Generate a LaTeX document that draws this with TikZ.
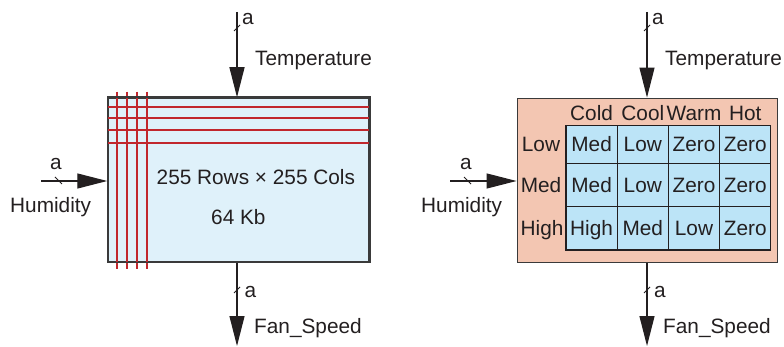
\documentclass[tikz,border=0pt]{standalone}
\usepackage{fontspec}
\setmainfont{Liberation Sans}
\usetikzlibrary{arrows.meta}
\definecolor{ink}{HTML}{231F20}
\definecolor{boxline}{HTML}{3A3A3A}
\definecolor{lblue}{HTML}{DFF1FA}
\definecolor{salmon}{HTML}{F3C6B2}
\definecolor{cblue}{HTML}{BCE4F7}
\definecolor{redline}{HTML}{C1272D}
\tikzset{
  lbl/.style={anchor=base west},
  sig/.style={draw=ink, line width=1.2pt, -{Triangle[length=30pt,width=15pt]}},
  tick/.style={draw=ink, line width=0.8pt},
  bigbox/.style={draw=boxline, line width=1.5pt, inner sep=0pt},
  cell/.style={draw=ink, line width=1.1pt, fill=cblue, minimum width=51.2pt, text height=14.9pt, text depth=0pt},
  hdr/.style={anchor=base},
  grid/.style={draw=redline, line width=2pt}
}
\begin{document}
\begin{tikzpicture}[x=1pt,y=-1pt, every node/.style={font=\fontsize{20.8}{25}\selectfont, text=ink, inner sep=0pt}]
\useasboundingbox (0,0) rectangle (784,347);
% ---------------- left diagram ----------------
\node[bigbox, fill=lblue, minimum width=261pt, minimum height=164pt] (lbox) at (238.5,180) {};
\foreach \yy in {107,118,130,143} \draw[grid] (108,\yy) -- (369,\yy);
\foreach \xx in {117,127,137,147} \draw[grid] (\xx,91.7) -- (\xx,269.3);
\draw[draw=boxline, line width=1.5pt] (lbox.south west) rectangle (lbox.north east);
\coordinate (ltin) at (237,12);
\coordinate (lhin) at (41,181);
\coordinate (lfout) at (237,346);
\draw[sig] (ltin) -- (ltin |- lbox.north);
\draw[sig] (lhin) -- (lhin -| lbox.west);
\draw[sig] (ltin |- lbox.south) -- (lfout);
\draw[tick] (237,28) +(-3,3) -- +(3,-3);
\draw[tick] (58.5,180.5) +(-3.5,-3.5) -- +(3.5,3.5);
\draw[tick] (237,290) +(-3,3) -- +(3,-3);
\node[lbl] (lta) at (242,24.5) {a};
\node[lbl] (ltl) at (255,66) {Temperature};
\node[lbl] (lha) at (50,170) {a};
\node[lbl] (lhl) at (10,213) {Humidity};
\node[lbl] (lfa) at (244.5,298) {a};
\node[lbl] (lfl) at (254,333) {Fan\_Speed};
\node[lbl] (lsz) at (156.5,185) {255 Rows × 255 Cols};
\node[lbl] (lkb) at (211,225) {64 Kb};
% ---------------- right diagram ----------------
\node[bigbox, fill=salmon, minimum width=260.4pt, minimum height=164pt] (rbox) at (647.5,180.3) {};
\coordinate (rtin) at (647,12);
\coordinate (rhin) at (450,181);
\coordinate (rfout) at (647,346);
\draw[sig] (rtin) -- (rtin |- rbox.north);
\draw[sig] (rhin) -- (rhin -| rbox.west);
\draw[sig] (rtin |- rbox.south) -- (rfout);
\draw[tick] (647,28) +(-3,3) -- +(3,-3);
\draw[tick] (467.5,180.5) +(-3.5,-3.5) -- +(3.5,3.5);
\draw[tick] (647,290) +(-3,3) -- +(3,-3);
\node[lbl] (rta) at (652,24.5) {a};
\node[lbl] (rtl) at (665,66) {Temperature};
\node[lbl] (rha) at (460,170) {a};
\node[lbl] (rhl) at (421,213) {Humidity};
\node[lbl] (rfa) at (654,298) {a};
\node[lbl] (rfl) at (663,333) {Fan\_Speed};
% column headers
\node[hdr] (hcold) at (591.6,120.7) {Cold};
\node[hdr] (hcool) at (642.8,120.7) {Cool};
\node[hdr] (hwarm) at (694,120.7) {Warm};
\node[hdr] (hhot) at (745.2,120.7) {Hot};
% row labels
\node[hdr] (hlow) at (541,152) {Low};
\node[hdr] (hmed) at (541,192.4) {Med};
\node[hdr] (hhigh) at (542,235.8) {High};
% cells
\node[cell, minimum height=37.6pt] (c11) at (591.6,144.5) {Med};
\node[cell, minimum height=37.6pt] (c12) at (642.8,144.5) {Low};
\node[cell, minimum height=37.6pt] (c13) at (694,144.5) {Zero};
\node[cell, minimum height=37.6pt] (c14) at (745.2,144.5) {Zero};
\node[cell, minimum height=43.4pt] (c21) at (591.6,185) {Med};
\node[cell, minimum height=43.4pt] (c22) at (642.8,185) {Low};
\node[cell, minimum height=43.4pt] (c23) at (694,185) {Zero};
\node[cell, minimum height=43.4pt] (c24) at (745.2,185) {Zero};
\node[cell, minimum height=43.3pt] (c31) at (591.6,228.35) {High};
\node[cell, minimum height=43.3pt] (c32) at (642.8,228.35) {Med};
\node[cell, minimum height=43.3pt] (c33) at (694,228.35) {Low};
\node[cell, minimum height=43.3pt] (c34) at (745.2,228.35) {Zero};
\end{tikzpicture}
\end{document}
